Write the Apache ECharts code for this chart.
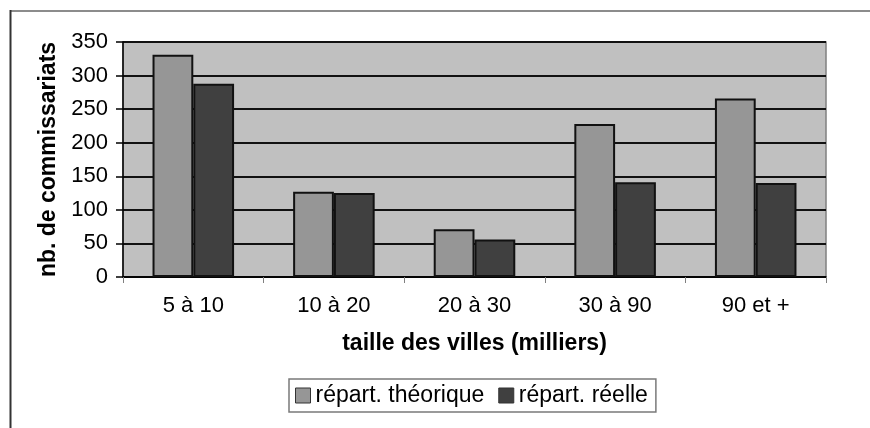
<!DOCTYPE html>
<html>
<head>
<meta charset="utf-8">
<script src="https://cdn.jsdelivr.net/npm/echarts@6/dist/echarts.min.js"></script>
<style>
html,body{margin:0;padding:0;background:#fff;}
#chart{width:870px;height:428px;}
</style>
</head>
<body>
<div id="chart"></div>
<script>
var categories = ['5 à 10', '10 à 20', '20 à 30', '30 à 90', '90 et +'];
var theorique = [331, 127, 71, 228, 266];
var reelle = [288, 125, 56, 141, 140];
var seriesNames = ['répart. théorique', 'répart. réelle'];
var xTitle = 'taille des villes (milliers)';
var yTitle = 'nb. de commissariats';

var FONT = '"Liberation Sans", Arial, sans-serif';
var chart = echarts.init(document.getElementById('chart'), null, {renderer: 'canvas'});
chart.setOption({
  animation: false,
  backgroundColor: '#ffffff',
  textStyle: {fontFamily: FONT, color: '#000'},
  graphic: [
    {type: 'line', shape: {x1: 10, y1: 11, x2: 870, y2: 11}, style: {stroke: '#8c8c8c', lineWidth: 2}},
    {type: 'line', shape: {x1: 10.5, y1: 10, x2: 10.5, y2: 428}, style: {stroke: '#333333', lineWidth: 2}}
  ],
  grid: {
    left: 123, right: 44, top: 42, bottom: 151,
    show: true, backgroundColor: '#c0c0c0', borderColor: '#808080', borderWidth: 1.5
  },
  legend: {
    data: seriesNames.map(function (n) { return {name: n, icon: 'rect'}; }),
    left: 289, top: 379,
    orient: 'horizontal',
    padding: [5, 8, 5, 6],
    itemWidth: 15, itemHeight: 15, itemGap: 14,
    borderColor: '#7a7a7a', borderWidth: 1.5,
    backgroundColor: '#ffffff',
    textStyle: {fontFamily: FONT, fontSize: 23, color: '#000'},
    itemStyle: {borderColor: '#333', borderWidth: 1}
  },
  xAxis: {
    type: 'category',
    data: categories,
    name: xTitle,
    nameLocation: 'middle',
    nameGap: 55,
    nameTextStyle: {fontFamily: FONT, fontSize: 23, fontWeight: 'bold', color: '#000'},
    axisLine: {show: true, lineStyle: {color: '#000', width: 1.5}},
    axisTick: {show: true, alignWithLabel: false, length: 6, lineStyle: {color: '#808080', width: 1}},
    axisLabel: {fontFamily: FONT, fontSize: 22, color: '#000', margin: 18},
    splitLine: {show: false}
  },
  yAxis: {
    type: 'value',
    min: 0, max: 350, interval: 50,
    name: yTitle,
    nameLocation: 'middle',
    nameGap: 62,
    nameRotate: 90,
    nameTextStyle: {fontFamily: FONT, fontSize: 23, fontWeight: 'bold', color: '#000'},
    axisLine: {show: true, lineStyle: {color: '#000', width: 1.5}},
    axisTick: {show: true, length: 7, inside: false, lineStyle: {color: '#000', width: 1.5}},
    axisLabel: {fontFamily: FONT, fontSize: 22, color: '#000', margin: 15},
    splitLine: {show: true, lineStyle: {color: '#111', width: 2}}
  },
  series: [
    {
      name: seriesNames[0], type: 'bar', data: theorique,
      barGap: '0%', barCategoryGap: '42%',
      itemStyle: {color: '#969696', borderColor: '#111', borderWidth: 2}
    },
    {
      name: seriesNames[1], type: 'bar', data: reelle,
      barGap: '0%', barCategoryGap: '42%',
      itemStyle: {color: '#404040', borderColor: '#111', borderWidth: 2}
    }
  ]
});
</script>
</body>
</html>
